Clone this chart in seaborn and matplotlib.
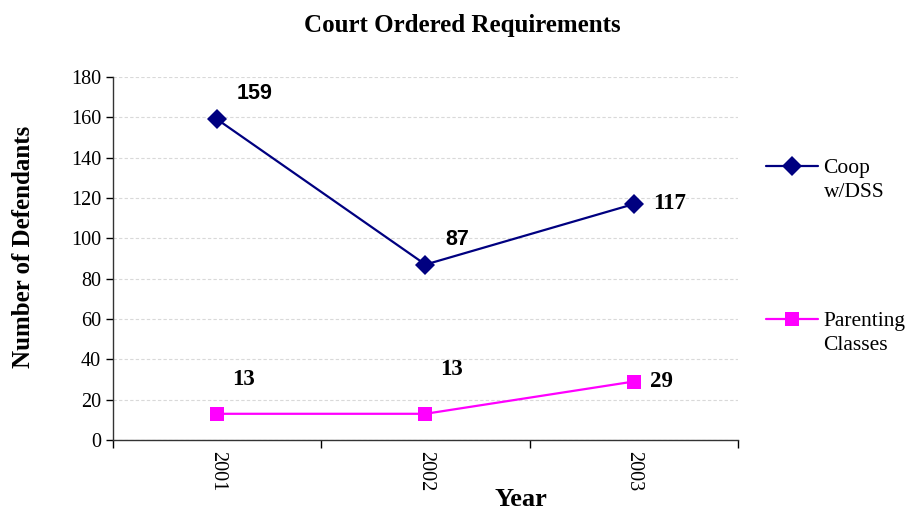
import pandas as pd
import matplotlib.pyplot as plt
import seaborn as sns
from matplotlib.ticker import FixedLocator

# -------------------------------
# Data
# -------------------------------
years = ["2001", "2002", "2003"]
coop_dss = [159, 87, 117]
parenting = [13, 13, 29]
series_names = ["Coop\nw/DSS", "Parenting\nClasses"]

df = pd.DataFrame({
    "Year": years * 2,
    "Defendants": coop_dss + parenting,
    "Series": [series_names[0]] * 3 + [series_names[1]] * 3,
})

sns.set_style("white")
plt.rcParams["font.family"] = ["Liberation Serif", "DejaVu Serif"]
plt.rcParams["text.color"] = "black"
plt.rcParams["xtick.color"] = "black"
plt.rcParams["ytick.color"] = "black"

fig = plt.figure(figsize=(9.06, 5.12), dpi=100)
ax = fig.add_axes([0.1247, 0.1406, 0.6898, 0.709])

sns.lineplot(
    data=df, x="Year", y="Defendants", hue="Series", style="Series",
    palette=["#000080", "#FF00FF"], markers=["D", "s"], dashes=False,
    markersize=10, linewidth=1.6, markeredgewidth=0, ax=ax, legend=True,
)

# y axis
ax.set_ylim(0, 180)
ax.set_yticks(range(0, 181, 20))
ax.yaxis.grid(True, color="#d9d9d9", linestyle=(0, (3, 2)), linewidth=0.8)
ax.tick_params(axis="y", labelsize=14.5, length=5, width=1, direction="out", left=True)

# x axis: categories with tick marks between them
ax.set_xlim(-0.5, 2.5)
ax.set_xticks(range(3))
ax.set_xticklabels(years, rotation=-90, fontsize=14.5)
ax.tick_params(axis="x", which="major", length=0, pad=8)
ax.xaxis.set_minor_locator(FixedLocator([-0.5, 0.5, 1.5, 2.5]))
ax.tick_params(axis="x", which="minor", length=6, width=1, direction="out", bottom=True)

for side in ["top", "right"]:
    ax.spines[side].set_visible(False)
for side in ["left", "bottom"]:
    ax.spines[side].set_color("#333333")
    ax.spines[side].set_linewidth(1)

ax.set_xlabel("")
ax.set_ylabel("")

# data labels (first two are sans, the rest serif like the original)
label_offsets_coop = [(26.6, 18.7), (23, 18), (25.5, 0.5)]
label_offsets_par = [(18.7, 24.5), (18.7, 31.7), (20, 0)]
sans = ["Liberation Sans", "DejaVu Sans"]
serif = ["Liberation Serif", "DejaVu Serif"]
coop_fonts = [sans, sans, serif]
for i, v in enumerate(coop_dss):
    ax.annotate(str(v), (i, v), xytext=label_offsets_coop[i], textcoords="offset points",
                ha="center", va="center", fontsize=16.5 if coop_fonts[i] is serif else 15.5,
                fontweight="bold", family=coop_fonts[i])
for i, v in enumerate(parenting):
    ax.annotate(str(v), (i, v), xytext=label_offsets_par[i], textcoords="offset points",
                ha="center", va="center", fontsize=16.5, fontweight="bold")

# titles
fig.text(0.51, 0.951, "Court Ordered Requirements", ha="center", va="center",
         fontsize=18, fontweight="bold")
fig.text(0.026, 0.517, "Number of Defendants", ha="center", va="center",
         rotation=90, fontsize=18, fontweight="bold")
fig.text(0.575, 0.024, "Year", ha="center", va="center", fontsize=19, fontweight="bold")

# legend
handles, labels = ax.get_legend_handles_labels()
leg = ax.legend(handles, labels, loc="upper left", bbox_to_anchor=(0.846, 0.69),
                bbox_transform=fig.transFigure, frameon=False, fontsize=15.5,
                labelspacing=5.08, handlelength=2.4, handletextpad=0.25,
                borderpad=0, borderaxespad=0)
for t in leg.get_texts():
    t.set_linespacing(1.4)
# put the marker next to the first line of each label
for col in leg._legend_handle_box.get_children():
    for item in col.get_children():
        item.align = "top"

plt.savefig("out.png", dpi=100)
plt.close()
